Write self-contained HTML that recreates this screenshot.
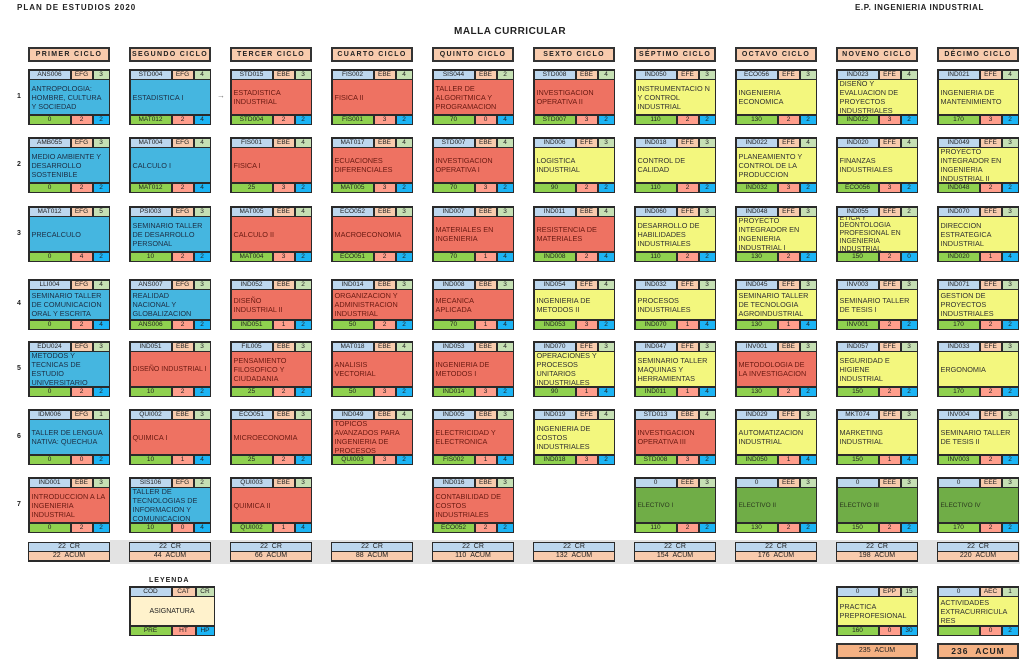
<!DOCTYPE html>
<html><head><meta charset="utf-8"><style>
*{box-sizing:border-box}
body{margin:0;width:1024px;height:667px;background:#fff;position:relative;overflow:hidden;font-family:"Liberation Sans",Arial,sans-serif;color:#222}
.a{position:absolute}
.tt{font-weight:bold;font-size:8px;letter-spacing:1px}
.h{position:absolute;top:47px;width:82px;height:15px;background:#f8cbad;border:2px solid #333;font-size:7px;font-weight:bold;letter-spacing:1.3px;text-align:center;line-height:11px}
.c{position:absolute;width:82px;height:56px;background:#2a2a2a;padding:1.5px;display:flex;flex-direction:column}
.t,.f{display:flex;height:8px;gap:2px}
.t i,.f i{font-style:normal;font-size:6.5px;line-height:8px;text-align:center;display:block;overflow:hidden;white-space:nowrap}
.t i:nth-child(1){width:40px;background:#bdd7ee}
.t i:nth-child(2){width:20px;background:#f8cbad}
.t i:nth-child(3){flex:1;background:#c6e0b4}
.f i:nth-child(1){width:40px;background:#8fd14f}
.f i:nth-child(2){width:20px;background:#ff9e8c}
.f i:nth-child(3){flex:1;background:#1cb4f4}
.c p{flex:1;margin:1.5px 0;display:flex;align-items:center;padding:0 2px;font-size:7.3px;line-height:9px;overflow:hidden}
.b p{background:#45b6e0;color:#1d2f45}
.r p{background:#ee7262;color:#6a1a12}
.y p{background:#f3f77e;color:#333}
.g p{background:#70ad47;color:#2b3a1e;font-size:6.5px}
.n{position:absolute;left:17px;font-size:7px;font-weight:bold}
.s{position:absolute;top:542px;width:82px;height:20px;background:#2a2a2a;padding:1px}
.s div{height:8px;font-size:7px;line-height:8px;text-align:center;margin-bottom:1px}
.s div:first-child{background:#bdd7ee}.s div:last-child{background:#f8cbad}
</style></head><body>
<div class="a tt" style="left:17px;top:3px">PLAN DE ESTUDIOS 2020</div>
<div class="a tt" style="left:855px;top:3px;letter-spacing:0.6px">E.P. INGENIERIA INDUSTRIAL</div>
<div class="a" style="left:454px;top:26px;font-weight:bold;font-size:10px;letter-spacing:0.5px">MALLA CURRICULAR</div>
<div class="a" style="left:110px;top:540px;width:910px;height:24px;background:#e3e3e3"></div>

<div class="h" style="left:28px">PRIMER CICLO</div>
<div class="h" style="left:129px">SEGUNDO CICLO</div>
<div class="h" style="left:230px">TERCER CICLO</div>
<div class="h" style="left:331px">CUARTO CICLO</div>
<div class="h" style="left:432px">QUINTO CICLO</div>
<div class="h" style="left:533px">SEXTO CICLO</div>
<div class="h" style="left:634px">SÉPTIMO CICLO</div>
<div class="h" style="left:735px">OCTAVO CICLO</div>
<div class="h" style="left:836px">NOVENO CICLO</div>
<div class="h" style="left:937px">DÉCIMO CICLO</div>

<div class="n" style="top:93px">1</div><div class="n" style="top:161px">2</div><div class="n" style="top:230px">3</div><div class="n" style="top:300px">4</div><div class="n" style="top:365px">5</div><div class="n" style="top:433px">6</div><div class="n" style="top:501px">7</div>
<div class="a" style="left:217px;top:91px;font-size:8px;color:#777">→</div>

<!-- Row 1 -->
<div class="c b" style="left:28px;top:69px"><div class="t"><i>ANS006</i><i>EFG</i><i>3</i></div><p>ANTROPOLOGIA: HOMBRE, CULTURA Y SOCIEDAD</p><div class="f"><i>0</i><i>2</i><i>2</i></div></div>
<div class="c b" style="left:129px;top:69px"><div class="t"><i>STD004</i><i>EFG</i><i>4</i></div><p>ESTADISTICA I</p><div class="f"><i>MAT012</i><i>2</i><i>4</i></div></div>
<div class="c r" style="left:230px;top:69px"><div class="t"><i>STD015</i><i>EBE</i><i>3</i></div><p>ESTADISTICA INDUSTRIAL</p><div class="f"><i>STD004</i><i>2</i><i>2</i></div></div>
<div class="c r" style="left:331px;top:69px"><div class="t"><i>FIS002</i><i>EBE</i><i>4</i></div><p>FISICA II</p><div class="f"><i>FIS001</i><i>3</i><i>2</i></div></div>
<div class="c r" style="left:432px;top:69px"><div class="t"><i>SIS044</i><i>EBE</i><i>2</i></div><p>TALLER DE ALGORITMICA Y PROGRAMACION</p><div class="f"><i>70</i><i>0</i><i>4</i></div></div>
<div class="c r" style="left:533px;top:69px"><div class="t"><i>STD008</i><i>EBE</i><i>4</i></div><p>INVESTIGACION OPERATIVA II</p><div class="f"><i>STD007</i><i>3</i><i>2</i></div></div>
<div class="c y" style="left:634px;top:69px"><div class="t"><i>IND050</i><i>EFE</i><i>3</i></div><p>INSTRUMENTACIO N Y CONTROL INDUSTRIAL</p><div class="f"><i>110</i><i>2</i><i>2</i></div></div>
<div class="c y" style="left:735px;top:69px"><div class="t"><i>ECO056</i><i>EFE</i><i>3</i></div><p>INGENIERIA ECONOMICA</p><div class="f"><i>130</i><i>2</i><i>2</i></div></div>
<div class="c y" style="left:836px;top:69px"><div class="t"><i>IND023</i><i>EFE</i><i>4</i></div><p>DISEÑO Y EVALUACION DE PROYECTOS INDUSTRIALES</p><div class="f"><i>IND022</i><i>3</i><i>2</i></div></div>
<div class="c y" style="left:937px;top:69px"><div class="t"><i>IND021</i><i>EFE</i><i>4</i></div><p>INGENIERIA DE MANTENIMIENTO</p><div class="f"><i>170</i><i>3</i><i>2</i></div></div>

<!-- Row 2 -->
<div class="c b" style="left:28px;top:137px"><div class="t"><i>AMB055</i><i>EFG</i><i>3</i></div><p>MEDIO AMBIENTE Y DESARROLLO SOSTENIBLE</p><div class="f"><i>0</i><i>2</i><i>2</i></div></div>
<div class="c b" style="left:129px;top:137px"><div class="t"><i>MAT004</i><i>EFG</i><i>4</i></div><p>CALCULO I</p><div class="f"><i>MAT012</i><i>2</i><i>4</i></div></div>
<div class="c r" style="left:230px;top:137px"><div class="t"><i>FIS001</i><i>EBE</i><i>4</i></div><p>FISICA I</p><div class="f"><i>25</i><i>3</i><i>2</i></div></div>
<div class="c r" style="left:331px;top:137px"><div class="t"><i>MAT017</i><i>EBE</i><i>4</i></div><p>ECUACIONES DIFERENCIALES</p><div class="f"><i>MAT005</i><i>3</i><i>2</i></div></div>
<div class="c r" style="left:432px;top:137px"><div class="t"><i>STD007</i><i>EBE</i><i>4</i></div><p>INVESTIGACION OPERATIVA I</p><div class="f"><i>70</i><i>3</i><i>2</i></div></div>
<div class="c y" style="left:533px;top:137px"><div class="t"><i>IND006</i><i>EFE</i><i>3</i></div><p>LOGISTICA INDUSTRIAL</p><div class="f"><i>90</i><i>2</i><i>2</i></div></div>
<div class="c y" style="left:634px;top:137px"><div class="t"><i>IND018</i><i>EFE</i><i>3</i></div><p>CONTROL DE CALIDAD</p><div class="f"><i>110</i><i>2</i><i>2</i></div></div>
<div class="c y" style="left:735px;top:137px"><div class="t"><i>IND022</i><i>EFE</i><i>4</i></div><p>PLANEAMIENTO Y CONTROL DE LA PRODUCCION</p><div class="f"><i>IND032</i><i>3</i><i>2</i></div></div>
<div class="c y" style="left:836px;top:137px"><div class="t"><i>IND020</i><i>EFE</i><i>4</i></div><p>FINANZAS INDUSTRIALES</p><div class="f"><i>ECO056</i><i>3</i><i>2</i></div></div>
<div class="c y" style="left:937px;top:137px"><div class="t"><i>IND049</i><i>EFE</i><i>3</i></div><p>PROYECTO INTEGRADOR EN INGENIERIA INDUSTRIAL II</p><div class="f"><i>IND048</i><i>2</i><i>2</i></div></div>

<!-- Row 3 -->
<div class="c b" style="left:28px;top:206px"><div class="t"><i>MAT012</i><i>EFG</i><i>5</i></div><p>PRECALCULO</p><div class="f"><i>0</i><i>4</i><i>2</i></div></div>
<div class="c b" style="left:129px;top:206px"><div class="t"><i>PSI003</i><i>EFG</i><i>3</i></div><p>SEMINARIO TALLER DE DESARROLLO PERSONAL</p><div class="f"><i>10</i><i>2</i><i>2</i></div></div>
<div class="c r" style="left:230px;top:206px"><div class="t"><i>MAT005</i><i>EBE</i><i>4</i></div><p>CALCULO II</p><div class="f"><i>MAT004</i><i>3</i><i>2</i></div></div>
<div class="c r" style="left:331px;top:206px"><div class="t"><i>ECO052</i><i>EBE</i><i>3</i></div><p>MACROECONOMIA</p><div class="f"><i>ECO051</i><i>2</i><i>2</i></div></div>
<div class="c r" style="left:432px;top:206px"><div class="t"><i>IND007</i><i>EBE</i><i>3</i></div><p>MATERIALES EN INGENIERIA</p><div class="f"><i>70</i><i>1</i><i>4</i></div></div>
<div class="c r" style="left:533px;top:206px"><div class="t"><i>IND011</i><i>EBE</i><i>4</i></div><p>RESISTENCIA DE MATERIALES</p><div class="f"><i>IND008</i><i>2</i><i>4</i></div></div>
<div class="c y" style="left:634px;top:206px"><div class="t"><i>IND060</i><i>EFE</i><i>3</i></div><p>DESARROLLO DE HABILIDADES INDUSTRIALES</p><div class="f"><i>110</i><i>2</i><i>2</i></div></div>
<div class="c y" style="left:735px;top:206px"><div class="t"><i>IND048</i><i>EFE</i><i>3</i></div><p>PROYECTO INTEGRADOR EN INGENIERIA INDUSTRIAL I</p><div class="f"><i>130</i><i>2</i><i>2</i></div></div>
<div class="c y" style="left:836px;top:206px"><div class="t"><i>IND055</i><i>EFE</i><i>2</i></div><p style="font-size:7px;line-height:7.8px;padding-top:0;padding-bottom:0">ETICA Y DEONTOLOGIA PROFESIONAL EN INGENIERIA INDUSTRIAL</p><div class="f"><i>150</i><i>2</i><i>0</i></div></div>
<div class="c y" style="left:937px;top:206px"><div class="t"><i>IND070</i><i>EFE</i><i>3</i></div><p>DIRECCION ESTRATEGICA INDUSTRIAL</p><div class="f"><i>IND020</i><i>1</i><i>4</i></div></div>

<!-- Row 4 -->
<div class="c b" style="left:28px;top:279px;height:51px"><div class="t"><i>LLI004</i><i>EFG</i><i>4</i></div><p>SEMINARIO TALLER DE COMUNICACION ORAL Y ESCRITA</p><div class="f"><i>0</i><i>2</i><i>4</i></div></div>
<div class="c b" style="left:129px;top:279px;height:51px"><div class="t"><i>ANS007</i><i>EFG</i><i>3</i></div><p>REALIDAD NACIONAL Y GLOBALIZACION</p><div class="f"><i>ANS006</i><i>2</i><i>2</i></div></div>
<div class="c r" style="left:230px;top:279px;height:51px"><div class="t"><i>IND052</i><i>EBE</i><i>2</i></div><p>DISEÑO<br>INDUSTRIAL II</p><div class="f"><i>IND051</i><i>1</i><i>2</i></div></div>
<div class="c r" style="left:331px;top:279px;height:51px"><div class="t"><i>IND014</i><i>EBE</i><i>3</i></div><p>ORGANIZACION Y ADMINISTRACION INDUSTRIAL</p><div class="f"><i>50</i><i>2</i><i>2</i></div></div>
<div class="c r" style="left:432px;top:279px;height:51px"><div class="t"><i>IND008</i><i>EBE</i><i>3</i></div><p>MECANICA APLICADA</p><div class="f"><i>70</i><i>1</i><i>4</i></div></div>
<div class="c y" style="left:533px;top:279px;height:51px"><div class="t"><i>IND054</i><i>EFE</i><i>4</i></div><p>INGENIERIA DE METODOS II</p><div class="f"><i>IND053</i><i>3</i><i>2</i></div></div>
<div class="c y" style="left:634px;top:279px;height:51px"><div class="t"><i>IND032</i><i>EFE</i><i>3</i></div><p>PROCESOS INDUSTRIALES</p><div class="f"><i>IND070</i><i>1</i><i>4</i></div></div>
<div class="c y" style="left:735px;top:279px;height:51px"><div class="t"><i>IND045</i><i>EFE</i><i>3</i></div><p>SEMINARIO TALLER DE TECNOLOGIA AGROINDUSTRIAL</p><div class="f"><i>130</i><i>1</i><i>4</i></div></div>
<div class="c y" style="left:836px;top:279px;height:51px"><div class="t"><i>INV003</i><i>EFE</i><i>3</i></div><p>SEMINARIO TALLER DE TESIS I</p><div class="f"><i>INV001</i><i>2</i><i>2</i></div></div>
<div class="c y" style="left:937px;top:279px;height:51px"><div class="t"><i>IND071</i><i>EFE</i><i>3</i></div><p>GESTION DE PROYECTOS INDUSTRIALES</p><div class="f"><i>170</i><i>2</i><i>2</i></div></div>

<!-- Row 5 -->
<div class="c b" style="left:28px;top:341px"><div class="t"><i>EDU024</i><i>EFG</i><i>3</i></div><p>METODOS Y TECNICAS DE ESTUDIO UNIVERSITARIO</p><div class="f"><i>0</i><i>2</i><i>2</i></div></div>
<div class="c r" style="left:129px;top:341px"><div class="t"><i>IND051</i><i>EBE</i><i>3</i></div><p style="white-space:nowrap;font-size:7px">DISEÑO INDUSTRIAL I</p><div class="f"><i>10</i><i>2</i><i>2</i></div></div>
<div class="c r" style="left:230px;top:341px"><div class="t"><i>FIL005</i><i>EBE</i><i>3</i></div><p>PENSAMIENTO FILOSOFICO Y CIUDADANIA</p><div class="f"><i>25</i><i>2</i><i>2</i></div></div>
<div class="c r" style="left:331px;top:341px"><div class="t"><i>MAT018</i><i>EBE</i><i>4</i></div><p>ANALISIS VECTORIAL</p><div class="f"><i>50</i><i>3</i><i>2</i></div></div>
<div class="c r" style="left:432px;top:341px"><div class="t"><i>IND053</i><i>EBE</i><i>4</i></div><p>INGENIERIA DE METODOS I</p><div class="f"><i>IND014</i><i>3</i><i>2</i></div></div>
<div class="c y" style="left:533px;top:341px"><div class="t"><i>IND070</i><i>EFE</i><i>3</i></div><p>OPERACIONES Y PROCESOS UNITARIOS INDUSTRIALES</p><div class="f"><i>90</i><i>1</i><i>4</i></div></div>
<div class="c y" style="left:634px;top:341px"><div class="t"><i>IND047</i><i>EFE</i><i>3</i></div><p>SEMINARIO TALLER MAQUINAS Y HERRAMIENTAS</p><div class="f"><i>IND011</i><i>1</i><i>4</i></div></div>
<div class="c r" style="left:735px;top:341px"><div class="t"><i>INV001</i><i>EBE</i><i>3</i></div><p>METODOLOGIA DE LA INVESTIGACION</p><div class="f"><i>130</i><i>2</i><i>2</i></div></div>
<div class="c y" style="left:836px;top:341px"><div class="t"><i>IND057</i><i>EFE</i><i>3</i></div><p>SEGURIDAD E HIGIENE INDUSTRIAL</p><div class="f"><i>150</i><i>2</i><i>2</i></div></div>
<div class="c y" style="left:937px;top:341px"><div class="t"><i>IND033</i><i>EFE</i><i>3</i></div><p>ERGONOMIA</p><div class="f"><i>170</i><i>2</i><i>2</i></div></div>

<!-- Row 6 -->
<div class="c b" style="left:28px;top:409px"><div class="t"><i>IDM006</i><i>EFG</i><i>1</i></div><p>TALLER DE LENGUA NATIVA: QUECHUA</p><div class="f"><i>0</i><i>0</i><i>2</i></div></div>
<div class="c r" style="left:129px;top:409px"><div class="t"><i>QUI002</i><i>EBE</i><i>3</i></div><p>QUIMICA I</p><div class="f"><i>10</i><i>1</i><i>4</i></div></div>
<div class="c r" style="left:230px;top:409px"><div class="t"><i>ECO051</i><i>EBE</i><i>3</i></div><p>MICROECONOMIA</p><div class="f"><i>25</i><i>2</i><i>2</i></div></div>
<div class="c r" style="left:331px;top:409px"><div class="t"><i>IND049</i><i>EBE</i><i>4</i></div><p>TOPICOS AVANZADOS PARA INGENIERIA DE PROCESOS</p><div class="f"><i>QUI003</i><i>3</i><i>2</i></div></div>
<div class="c r" style="left:432px;top:409px"><div class="t"><i>IND005</i><i>EBE</i><i>3</i></div><p>ELECTRICIDAD Y ELECTRONICA</p><div class="f"><i>FIS002</i><i>1</i><i>4</i></div></div>
<div class="c y" style="left:533px;top:409px"><div class="t"><i>IND019</i><i>EFE</i><i>4</i></div><p>INGENIERIA DE COSTOS INDUSTRIALES</p><div class="f"><i>IND018</i><i>3</i><i>2</i></div></div>
<div class="c r" style="left:634px;top:409px"><div class="t"><i>STD013</i><i>EBE</i><i>4</i></div><p>INVESTIGACION OPERATIVA III</p><div class="f"><i>STD008</i><i>3</i><i>2</i></div></div>
<div class="c y" style="left:735px;top:409px"><div class="t"><i>IND029</i><i>EFE</i><i>3</i></div><p>AUTOMATIZACION INDUSTRIAL</p><div class="f"><i>IND050</i><i>1</i><i>4</i></div></div>
<div class="c y" style="left:836px;top:409px"><div class="t"><i>MKT074</i><i>EFE</i><i>3</i></div><p>MARKETING INDUSTRIAL</p><div class="f"><i>150</i><i>1</i><i>4</i></div></div>
<div class="c y" style="left:937px;top:409px"><div class="t"><i>INV004</i><i>EFE</i><i>3</i></div><p>SEMINARIO TALLER DE TESIS II</p><div class="f"><i>INV003</i><i>2</i><i>2</i></div></div>

<!-- Row 7 -->
<div class="c r" style="left:28px;top:477px"><div class="t"><i>IND001</i><i>EBE</i><i>3</i></div><p>INTRODUCCION A LA INGENIERIA INDUSTRIAL</p><div class="f"><i>0</i><i>2</i><i>2</i></div></div>
<div class="c b" style="left:129px;top:477px"><div class="t"><i>SIS106</i><i>EFG</i><i>2</i></div><p>TALLER DE TECNOLOGIAS DE INFORMACION Y COMUNICACION</p><div class="f"><i>10</i><i>0</i><i>4</i></div></div>
<div class="c r" style="left:230px;top:477px"><div class="t"><i>QUI003</i><i>EBE</i><i>3</i></div><p>QUIMICA II</p><div class="f"><i>QUI002</i><i>1</i><i>4</i></div></div>
<div class="c r" style="left:432px;top:477px"><div class="t"><i>IND016</i><i>EBE</i><i>3</i></div><p>CONTABILIDAD DE COSTOS INDUSTRIALES</p><div class="f"><i>ECO052</i><i>2</i><i>2</i></div></div>
<div class="c g" style="left:634px;top:477px"><div class="t"><i>0</i><i>EEE</i><i>3</i></div><p>ELECTIVO I</p><div class="f"><i>110</i><i>2</i><i>2</i></div></div>
<div class="c g" style="left:735px;top:477px"><div class="t"><i>0</i><i>EEE</i><i>3</i></div><p>ELECTIVO II</p><div class="f"><i>130</i><i>2</i><i>2</i></div></div>
<div class="c g" style="left:836px;top:477px"><div class="t"><i>0</i><i>EEE</i><i>3</i></div><p>ELECTIVO III</p><div class="f"><i>150</i><i>2</i><i>2</i></div></div>
<div class="c g" style="left:937px;top:477px"><div class="t"><i>0</i><i>EEE</i><i>3</i></div><p>ELECTIVO IV</p><div class="f"><i>170</i><i>2</i><i>2</i></div></div>

<!-- Totals -->
<div class="s" style="left:28px"><div>22 &nbsp;CR</div><div>22 &nbsp;ACUM</div></div>
<div class="s" style="left:129px"><div>22 &nbsp;CR</div><div>44 &nbsp;ACUM</div></div>
<div class="s" style="left:230px"><div>22 &nbsp;CR</div><div>66 &nbsp;ACUM</div></div>
<div class="s" style="left:331px"><div>22 &nbsp;CR</div><div>88 &nbsp;ACUM</div></div>
<div class="s" style="left:432px"><div>22 &nbsp;CR</div><div>110 &nbsp;ACUM</div></div>
<div class="s" style="left:533px"><div>22 &nbsp;CR</div><div>132 &nbsp;ACUM</div></div>
<div class="s" style="left:634px"><div>22 &nbsp;CR</div><div>154 &nbsp;ACUM</div></div>
<div class="s" style="left:735px"><div>22 &nbsp;CR</div><div>176 &nbsp;ACUM</div></div>
<div class="s" style="left:836px"><div>22 &nbsp;CR</div><div>198 &nbsp;ACUM</div></div>
<div class="s" style="left:937px"><div>22 &nbsp;CR</div><div>220 &nbsp;ACUM</div></div>

<!-- Legend -->
<div class="a" style="left:149px;top:577px;font-size:7px;font-weight:bold;letter-spacing:1px">LEYENDA</div>
<div class="c" style="left:129px;top:586px;height:50px;width:86px"><div class="t"><i>COD</i><i style="width:22px">CAT</i><i>CR</i></div><p style="background:#fff2cc;justify-content:center;font-size:7px">ASIGNATURA</p><div class="f"><i>PRE</i><i style="width:22px">HT</i><i>HP</i></div></div>

<div class="c y" style="left:836px;top:586px;height:50px"><div class="t"><i>0</i><i>EPP</i><i>15</i></div><p>PRACTICA PREPROFESIONAL</p><div class="f"><i>160</i><i>0</i><i>30</i></div></div>
<div class="c y" style="left:937px;top:586px;height:50px"><div class="t"><i>0</i><i>AEC</i><i>1</i></div><p>ACTIVIDADES EXTRACURRICULA RES</p><div class="f"><i></i><i>0</i><i>2</i></div></div>
<div class="a" style="left:836px;top:643px;width:82px;height:16px;background:#f4b183;border:2px solid #333;font-size:7px;text-align:center;line-height:12px">235 &nbsp;ACUM</div>
<div class="a" style="left:937px;top:643px;width:82px;height:16px;background:#f4b183;border:2px solid #333;font-size:8.5px;font-weight:bold;letter-spacing:1px;text-align:center;line-height:12px">236 &nbsp;ACUM</div>
</body></html>
